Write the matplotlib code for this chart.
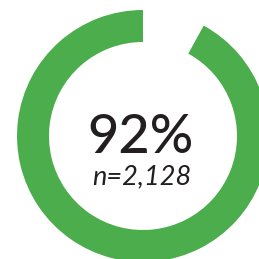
import matplotlib
matplotlib.use("Agg")
import matplotlib.pyplot as plt

# donut values
share = [92, 8]
pct_label = "92%"
n_label = "n=2,128"
ring_color = "#4cad4c"
text_color = "#231f20"

fig = plt.figure(figsize=(2.59, 2.59), dpi=100)
ax = fig.add_axes([0, 0, 1, 1])

ax.pie(share, colors=[ring_color, "none"], startangle=90, counterclock=True,
       center=(143, 123), radius=126,
       wedgeprops=dict(width=32, linewidth=0))

ax.set_xlim(0, 259)
ax.set_ylim(0, 259)
ax.set_aspect("equal")
ax.axis("off")

ax.text(141, 106, pct_label, ha="center", va="baseline", fontsize=39,
        family="Lato", weight="medium", color=text_color)
ax.text(141.5, 75, n_label, ha="center", va="baseline", fontsize=19.5,
        family="Lato", style="italic", color=text_color)

fig.savefig("out.png", dpi=100)
